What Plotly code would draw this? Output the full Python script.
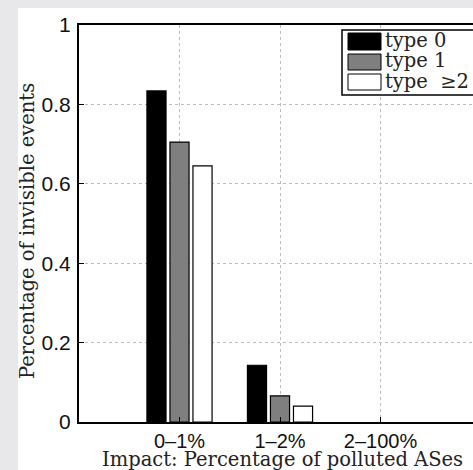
import plotly.graph_objects as go

categories = ["0–1%", "1–2%", "2–100%"]
series_names = ["type 0", "type 1", "type  ≥2"]
type0 = [0.834, 0.143, 0.0]
type1 = [0.705, 0.066, 0.0]
type2 = [0.645, 0.040, 0.0]
yticks = [0, 0.2, 0.4, 0.6, 0.8, 1]

W, H = 473, 470
L, R, T, B = 79, 473, 25, 422  # plot area in px


def px(x):
    return (x - L) / (R - L)


def py(y):
    return (B - y) / (B - T)


fig = go.Figure()
colors = ["#000000", "#7f7f7f", "#ffffff"]
for name, vals, c in zip(series_names, [type0, type1, type2], colors):
    lw = [1.2 if v > 0 else 0 for v in vals]
    fig.add_trace(go.Bar(x=categories, y=vals, name=name,
                         marker=dict(color=c, line=dict(color="#000", width=lw)),
                         showlegend=False))

serif = "DejaVu Serif"
shapes = [
    dict(type="rect", xref="paper", yref="paper", x0=px(18), x1=px(480), y0=py(475), y1=py(8),
         fillcolor="white", line=dict(width=0), layer="below"),
    dict(type="rect", xref="paper", yref="paper", x0=px(342), x1=px(490), y0=py(95), y1=py(30),
         fillcolor="white", line=dict(color="#000", width=1.5), layer="above"),
]
annotations = []
sw_y = [(33, 50), (54, 70), (74, 90)]
for name, c, (y0, y1) in zip(series_names, colors, sw_y):
    shapes.append(dict(type="rect", xref="paper", yref="paper", x0=px(348), x1=px(381), y0=py(y1), y1=py(y0),
                       fillcolor=c, line=dict(color="#000", width=1), layer="above"))
    annotations.append(dict(text=name, xref="paper", yref="paper", x=px(383), y=py((y0 + y1) / 2 - 1),
                            xanchor="left", yanchor="middle", showarrow=False,
                            font=dict(family=serif, size=19.5, color="#222")))

annotations.append(dict(text="Impact: Percentage of polluted ASes", xref="paper", yref="paper",
                        x=px(282), y=py(460), xanchor="center", yanchor="middle", showarrow=False,
                        font=dict(family=serif, size=19.5, color="#222")))
annotations.append(dict(text="Percentage of invisible events", xref="paper", yref="paper",
                        x=px(27), y=py(231), xanchor="center", yanchor="middle", showarrow=False,
                        textangle=-90, font=dict(family=serif, size=19.5, color="#222")))

fig.update_layout(
    width=W, height=H,
    margin=dict(l=L, r=W - R, t=T, b=H - B),
    paper_bgcolor="#e8e8ea", plot_bgcolor="white",
    barmode="group", bargap=0.313, bargroupgap=0.17,
    shapes=shapes, annotations=annotations,
    font=dict(family="Liberation Sans", size=20, color="#111"),
)
fig.update_xaxes(range=[-1, (R - L) / 100.5 - 1], showline=True, linecolor="#000", linewidth=2, mirror=True,
                 ticks="inside", ticklen=5, tickcolor="#000", showgrid=True, gridcolor="#bdbdbd",
                 griddash="dot", gridwidth=1, ticklabelstandoff=0, zeroline=False)
fig.update_yaxes(range=[0, 1], tickvals=yticks, showline=True, linecolor="#000", linewidth=2, mirror=False,
                 ticks="inside", ticklen=5, tickcolor="#000", showgrid=True, gridcolor="#bdbdbd",
                 griddash="dot", gridwidth=1, zeroline=False, ticklabelstandoff=2,
                 tickfont=dict(size=21))

fig.write_html("out.html")
